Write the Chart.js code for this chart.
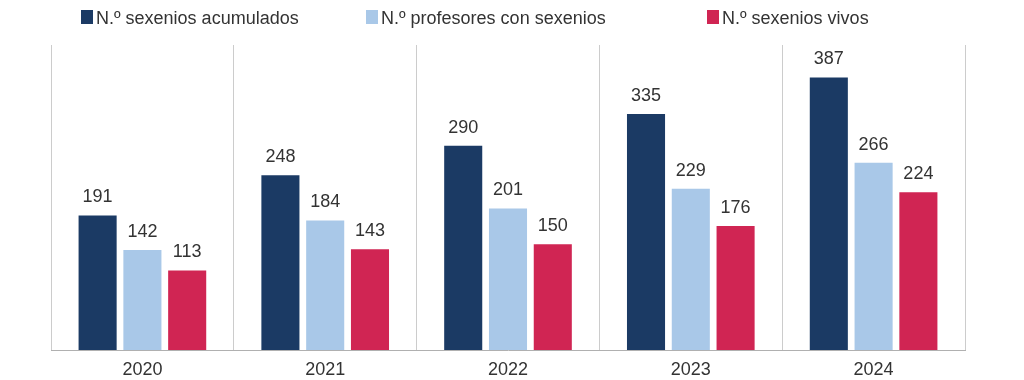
<!DOCTYPE html>
<html>
<head>
<meta charset="utf-8">
<script src="https://cdn.jsdelivr.net/npm/chart.js@4"></script>
<style>
  html, body { margin: 0; padding: 0; background: #ffffff; }
  #wrap { width: 1024px; height: 380px; position: relative; }
</style>
</head>
<body>
<div id="wrap"><canvas id="c" width="1024" height="380"></canvas></div>
<script>
// ---- data ----
const categories = ['2020', '2021', '2022', '2023', '2024'];
const seriesNames = ['N.º sexenios acumulados', 'N.º profesores con sexenios', 'N.º sexenios vivos'];
const acumulados = [191, 248, 290, 335, 387];
const profesores = [142, 184, 201, 229, 266];
const vivos = [113, 143, 150, 176, 224];

// ---- style ----
const colors = ['#1b3a64', '#a9c8e8', '#d02553'];
const FONT = '"Liberation Sans", Arial, sans-serif';
const TEXT = '#333333';
const legendX = [81, 366, 707];

const valueLabels = {
  id: 'valueLabels',
  afterDatasetsDraw(chart) {
    const ctx = chart.ctx;
    ctx.save();
    ctx.font = '18px ' + FONT;
    ctx.fillStyle = TEXT;
    ctx.textAlign = 'center';
    ctx.textBaseline = 'alphabetic';
    chart.data.datasets.forEach((ds, i) => {
      const meta = chart.getDatasetMeta(i);
      meta.data.forEach((el, j) => {
        ctx.fillText(String(ds.data[j]), el.x, el.y - 13);
      });
    });
    ctx.restore();
  }
};

const topLegend = {
  id: 'topLegend',
  afterDraw(chart) {
    const ctx = chart.ctx;
    ctx.save();
    ctx.font = '18px ' + FONT;
    ctx.textAlign = 'left';
    ctx.textBaseline = 'alphabetic';
    chart.data.datasets.forEach((ds, i) => {
      const x = legendX[i];
      ctx.fillStyle = ds.backgroundColor;
      ctx.fillRect(x, 10, 12, 14);
      ctx.fillStyle = TEXT;
      ctx.fillText(ds.label, x + 15, 24);
    });
    ctx.restore();
  }
};

new Chart(document.getElementById('c'), {
  type: 'bar',
  data: {
    labels: categories,
    datasets: [
      { label: seriesNames[0], data: acumulados, backgroundColor: colors[0] },
      { label: seriesNames[1], data: profesores, backgroundColor: colors[1] },
      { label: seriesNames[2], data: vivos, backgroundColor: colors[2] }
    ]
  },
  options: {
    responsive: false,
    animation: false,
    devicePixelRatio: 1,
    layout: { padding: { top: 45, left: 51, right: 59, bottom: 0 } },
    datasets: { bar: { categoryPercentage: 0.735, barPercentage: 0.85 } },
    plugins: {
      legend: { display: false },
      tooltip: { enabled: false }
    },
    scales: {
      x: {
        afterFit(scale) { scale.height = 30; },
        grid: { display: true, offset: true, color: '#cccccc', lineWidth: 1, drawTicks: false },
        border: { display: true, color: '#b0b0b0', width: 1 },
        ticks: { color: TEXT, font: { family: FONT, size: 18 }, padding: 9 }
      },
      y: {
        display: false,
        min: 0,
        max: 433
      }
    }
  },
  plugins: [valueLabels, topLegend]
});
</script>
</body>
</html>
